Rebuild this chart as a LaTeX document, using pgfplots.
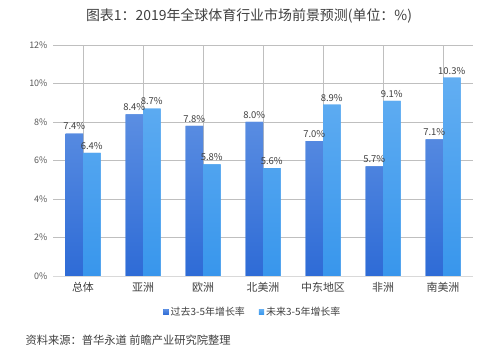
\documentclass[border=0pt]{standalone}
\usepackage{fontspec}
\setmainfont{Noto Sans CJK SC}
\usepackage{pgfplots}
\pgfplotsset{compat=1.18}
\definecolor{txt}{HTML}{404040}
\definecolor{tick}{HTML}{595959}
\definecolor{grid}{HTML}{D9D9D9}
\definecolor{dtop}{HTML}{5B8EE2}
\definecolor{dbot}{HTML}{2E6BD6}
\definecolor{ltop}{HTML}{62AEF2}
\definecolor{lbot}{HTML}{3896EC}
\definecolor{dleg}{HTML}{3B7BDE}
\definecolor{lleg}{HTML}{409EEF}
\begin{document}
\begin{tikzpicture}
\useasboundingbox (0,0) rectangle (500bp,362bp);
\fill[white] (0,0) rectangle (500bp,362bp);
\begin{axis}[
  at={(53bp,86bp)}, anchor=south west,
  scale only axis, width=420bp, height=231bp,
  /pgf/number format/assume math mode=true,
  ybar=0pt, bar width=17.5bp,
  xmin=-0.5, xmax=6.5, ymin=0, ymax=12,
  xtick={0,...,6},
  xticklabels={总体,亚洲,欧洲,北美洲,中东地区,非洲,南美洲},
  ytick={0,2,...,12},
  yticklabel={\pgfmathprintnumber{\tick}\%},
  axis line style={draw=none},
  axis x line*=bottom,
  ymajorgrids, grid style={grid, line width=0.6pt},
  major tick length=0pt,
  tick label style={font=\fontsize{9}{10}\selectfont, text=tick},
  xticklabel style={font=\fontsize{11}{12}\selectfont, text=txt, yshift=-3bp},
  yticklabel style={xshift=-2bp},
  nodes near coords={\pgfmathprintnumber[fixed,fixed zerofill,precision=1]{\pgfplotspointmeta}\%},
  every node near coord/.append style={font=\fontsize{9.5}{11}\selectfont, text=txt},
  legend columns=2,
  legend style={at={(0.476,-0.156)}, anchor=center, draw=none, fill=none,
    font=\fontsize{10}{12}\selectfont, text=txt,
    /tikz/every even column/.style={column sep=12bp}},
  legend image code/.code={\fill[#1] (0bp,-2.6bp) rectangle (5.2bp,2.6bp);},
  clip=false,
]
\addplot[draw=none, top color=dtop, bottom color=dbot, fill=dleg] coordinates {(0,7.4) (1,8.4) (2,7.8) (3,8.0) (4,7.0) (5,5.7) (6,7.1)};
\addlegendentry{过去3-5年增长率}
\addplot[draw=none, top color=ltop, bottom color=lbot, fill=lleg] coordinates {(0,6.4) (1,8.7) (2,5.8) (3,5.6) (4,8.9) (5,9.1) (6,10.3)};
\addlegendentry{未来3-5年增长率}
\draw[grid, line width=0.8pt] (axis cs:-0.5,0) -- (axis cs:6.5,0);
\end{axis}
\node[font=\fontsize{14}{16}\selectfont, text=txt] at (249bp,346bp) {图表1：2019年全球体育行业市场前景预测(单位：\%)};
\node[anchor=west, font=\fontsize{11.3}{13}\selectfont, text=txt] at (22bp,22bp) {资料来源：普华永道 前瞻产业研究院整理};
\end{tikzpicture}
\end{document}
